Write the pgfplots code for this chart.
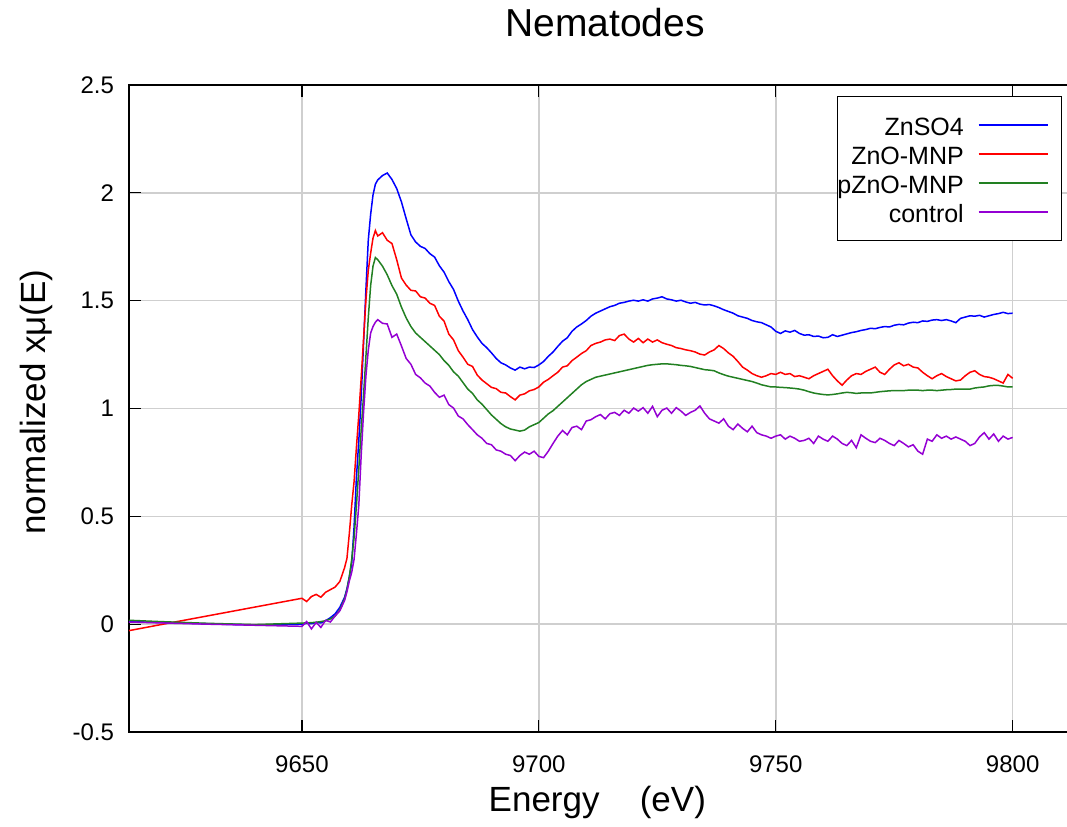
\documentclass[border=0pt]{standalone}
\usepackage{pgfplots}
\pgfplotsset{compat=1.18}
\usepackage{pgfplotstable}
\usepackage{fontspec}
\setmainfont{Liberation Sans}

\definecolor{cZn}{RGB}{0,0,255}
\definecolor{cMNP}{RGB}{255,0,0}
\definecolor{cPMNP}{RGB}{34,128,34}
\definecolor{cCtl}{RGB}{148,0,211}

% normalized mu(E): b = ZnSO4, r = ZnO-MNP, g = pZnO-MNP, p = control
\pgfplotstableread{
E      b      r      g      p
9613.5 0.012 -0.030  0.018  0.010
9620   0.008 -0.003  0.012  0.006
9630   0.002  0.038  0.004  0.000
9640  -0.004  0.079 -0.002 -0.005
9650   0.000  0.120  0.005 -0.010
9651   0.004  0.105  0.006  0.012
9652   0.002  0.128  0.007 -0.022
9653   0.008  0.138  0.009  0.008
9654   0.006  0.125  0.012 -0.015
9655   0.016  0.148  0.016  0.018
9656   0.030  0.160  0.024  0.010
9657   0.048  0.172  0.038  0.038
9658   0.078  0.198  0.066  0.062
9659   0.125  0.262  0.118  0.110
9659.5 0.165  0.305  0.160  0.150
9660   0.220  0.420  0.220  0.200
9660.5 0.280  0.550  0.300  0.240
9661   0.450  0.660  0.400  0.300
9661.5 0.680  0.820  0.550  0.420
9662   0.850  0.970  0.720  0.550
9662.5 1.050  1.140  0.900  0.780
9663   1.300  1.320  1.060  0.980
9663.5 1.550  1.500  1.240  1.150
9664   1.780  1.640  1.420  1.270
9664.5 1.900  1.720  1.570  1.350
9665   1.990  1.790  1.660  1.380
9665.5 2.040  1.825  1.700  1.400
9666   2.060  1.800  1.690  1.412
9667   2.080  1.815  1.660  1.395
9668   2.092  1.780  1.620  1.392
9669   2.062  1.765  1.570  1.330
9670   2.020  1.690  1.530  1.345
9671   1.958  1.605  1.470  1.290
9672   1.880  1.572  1.420  1.232
9673   1.805  1.548  1.380  1.205
9674   1.772  1.545  1.350  1.158
9675   1.752  1.518  1.330  1.142
9676   1.742  1.512  1.310  1.118
9677   1.718  1.488  1.290  1.104
9678   1.702  1.478  1.270  1.075
9679   1.662  1.428  1.250  1.052
9680   1.632  1.405  1.222  1.062
9681   1.588  1.345  1.200  1.018
9682   1.552  1.318  1.170  1.002
9683   1.498  1.268  1.150  0.965
9684   1.452  1.238  1.120  0.952
9685   1.412  1.205  1.090  0.925
9686   1.366  1.195  1.070  0.902
9687   1.332  1.155  1.040  0.878
9688   1.302  1.132  1.020  0.862
9689   1.282  1.115  0.995  0.838
9690   1.258  1.098  0.970  0.832
9691   1.232  1.092  0.950  0.808
9692   1.212  1.075  0.930  0.802
9693   1.202  1.072  0.915  0.788
9694   1.188  1.055  0.905  0.782
9695   1.178  1.040  0.900  0.758
9696   1.192  1.062  0.895  0.782
9697   1.184  1.068  0.900  0.798
9698   1.192  1.082  0.915  0.788
9699   1.190  1.088  0.925  0.802
9700   1.202  1.100  0.935  0.778
9701   1.218  1.122  0.955  0.772
9702   1.242  1.135  0.975  0.802
9703   1.262  1.152  0.990  0.838
9704   1.288  1.168  1.010  0.872
9705   1.312  1.192  1.030  0.898
9706   1.328  1.198  1.050  0.878
9707   1.358  1.222  1.070  0.912
9708   1.378  1.238  1.090  0.918
9709   1.392  1.255  1.110  0.902
9710   1.408  1.268  1.125  0.942
9711   1.428  1.292  1.135  0.948
9712   1.442  1.302  1.145  0.962
9713   1.452  1.308  1.150  0.972
9714   1.462  1.318  1.155  0.952
9715   1.472  1.322  1.160  0.976
9716   1.478  1.315  1.165  0.982
9717   1.488  1.338  1.170  0.968
9718   1.492  1.345  1.175  0.992
9719   1.498  1.322  1.180  0.978
9720   1.502  1.308  1.185  1.002
9721   1.498  1.325  1.190  0.988
9722   1.504  1.305  1.195  1.004
9723   1.498  1.322  1.200  0.978
9724   1.508  1.308  1.203  1.010
9725   1.512  1.318  1.205  0.962
9726   1.518  1.305  1.207  0.992
9727   1.508  1.298  1.207  1.002
9728   1.504  1.292  1.205  0.978
9729   1.498  1.282  1.203  1.004
9730   1.502  1.278  1.200  0.988
9731   1.494  1.272  1.198  0.968
9732   1.488  1.268  1.195  0.982
9733   1.492  1.262  1.190  0.992
9734   1.484  1.252  1.185  1.012
9735   1.480  1.248  1.180  0.978
9736   1.482  1.262  1.178  0.952
9737   1.476  1.272  1.175  0.942
9738   1.468  1.292  1.165  0.932
9739   1.458  1.278  1.157  0.952
9740   1.450  1.258  1.150  0.918
9741   1.442  1.242  1.145  0.902
9742   1.430  1.218  1.140  0.928
9743   1.424  1.192  1.135  0.908
9744   1.418  1.178  1.130  0.892
9745   1.408  1.162  1.125  0.918
9746   1.402  1.152  1.118  0.888
9747   1.398  1.145  1.110  0.878
9748   1.388  1.152  1.105  0.872
9749   1.378  1.162  1.100  0.862
9750   1.358  1.158  1.100  0.872
9751   1.348  1.168  1.098  0.878
9752   1.360  1.158  1.097  0.858
9753   1.354  1.162  1.095  0.872
9754   1.362  1.148  1.093  0.862
9755   1.348  1.152  1.090  0.848
9756   1.340  1.145  1.085  0.852
9757   1.342  1.138  1.078  0.862
9758   1.334  1.152  1.072  0.838
9759   1.336  1.162  1.068  0.872
9760   1.328  1.172  1.065  0.858
9761   1.330  1.182  1.063  0.848
9762   1.342  1.152  1.065  0.872
9763   1.334  1.128  1.068  0.858
9764   1.340  1.108  1.072  0.838
9765   1.346  1.132  1.075  0.828
9766   1.352  1.152  1.073  0.852
9767   1.356  1.162  1.070  0.818
9768   1.362  1.158  1.072  0.878
9769   1.366  1.172  1.072  0.862
9770   1.372  1.182  1.072  0.848
9771   1.370  1.192  1.075  0.842
9772   1.376  1.168  1.078  0.862
9773   1.380  1.158  1.080  0.852
9774   1.378  1.182  1.082  0.838
9775   1.386  1.202  1.083  0.828
9776   1.390  1.212  1.083  0.852
9777   1.388  1.198  1.083  0.838
9778   1.396  1.205  1.085  0.822
9779   1.400  1.192  1.085  0.832
9780   1.398  1.188  1.085  0.802
9781   1.406  1.168  1.083  0.788
9782   1.404  1.152  1.085  0.858
9783   1.410  1.138  1.085  0.848
9784   1.412  1.152  1.083  0.878
9785   1.408  1.162  1.085  0.862
9786   1.412  1.148  1.087  0.872
9787   1.406  1.138  1.088  0.858
9788   1.398  1.128  1.090  0.868
9789   1.418  1.132  1.090  0.858
9790   1.424  1.152  1.090  0.848
9791   1.430  1.168  1.090  0.828
9792   1.428  1.175  1.095  0.838
9793   1.432  1.158  1.098  0.868
9794   1.424  1.148  1.100  0.888
9795   1.430  1.145  1.105  0.858
9796   1.436  1.138  1.107  0.882
9797   1.440  1.128  1.107  0.848
9798   1.446  1.118  1.104  0.872
9799   1.440  1.158  1.100  0.858
9800   1.442  1.140  1.100  0.866
}\xanes

\begin{document}
\begin{tikzpicture}
\begin{axis}[
  name=ax,
  scale only axis,
  width=475pt, height=323.5pt,
  xmin=9613.5, xmax=9814.0,
  ymin=-0.5, ymax=2.5,
  xtick={9650,9700,9750,9800},
  ytick={-0.5,0,0.5,1,1.5,2,2.5},
  scaled x ticks=false,
  tick align=inside,
  major tick length=6pt,
  tick style={black, line width=0.6pt},
  grid=major,
  major grid style={gray!38, line width=0.8pt},
  axis line style={line width=0.8pt},
  /pgf/number format/assume math mode=true,
  /pgf/number format/1000 sep={},
  ticklabel style={font=\fontsize{12}{14}\selectfont},
  xticklabel style={yshift=-8.5pt},
  yticklabel style={xshift=-4pt},
  title={Nematodes},
  title style={at={(axis description cs:0.501,1.057)}, anchor=base,
    font=\fontsize{19.5}{22}\selectfont},
  xlabel={Energy\hspace{1.15em}(eV)},
  xlabel style={at={(axis description cs:0.493,-0.1236)}, anchor=base,
    font=\fontsize{17.5}{20}\selectfont},
  ylabel={normalized xμ(E)},
  ylabel style={at={(axis description cs:-0.0884,0.51)}, anchor=base,
    font=\fontsize{17.5}{20}\selectfont},
  legend cell align=right,
  legend plot pos=right,
  legend image code/.code={\draw[#1] (0pt,0pt) -- (34.7pt,0pt); \path (41pt,0pt);},
  legend style={at={(axis description cs:0.9821,0.983)}, anchor=north east,
    draw=black, line width=0.7pt, inner xsep=0pt, inner ysep=7pt,
    column sep=7pt, row sep=0pt,
    font=\fontsize{12.5}{14}\selectfont,
    nodes={inner sep=0pt, text height=12.2pt, text depth=2.3pt}},
]
\addplot[cZn, line width=0.75pt] table[x=E, y=b] {\xanes};
\addplot[cMNP, line width=0.75pt] table[x=E, y=r] {\xanes};
\addplot[cPMNP, line width=0.75pt] table[x=E, y=g] {\xanes};
\addplot[cCtl, line width=0.75pt] table[x=E, y=p] {\xanes};
\legend{ZnSO4, ZnO-MNP, pZnO-MNP, control}
\end{axis}
\pgfresetboundingbox
\path[use as bounding box] ([shift={(-64.5pt,-47pt)}]ax.south west)
  rectangle ([shift={(469pt,366pt)}]ax.south west);
\end{tikzpicture}
\end{document}
